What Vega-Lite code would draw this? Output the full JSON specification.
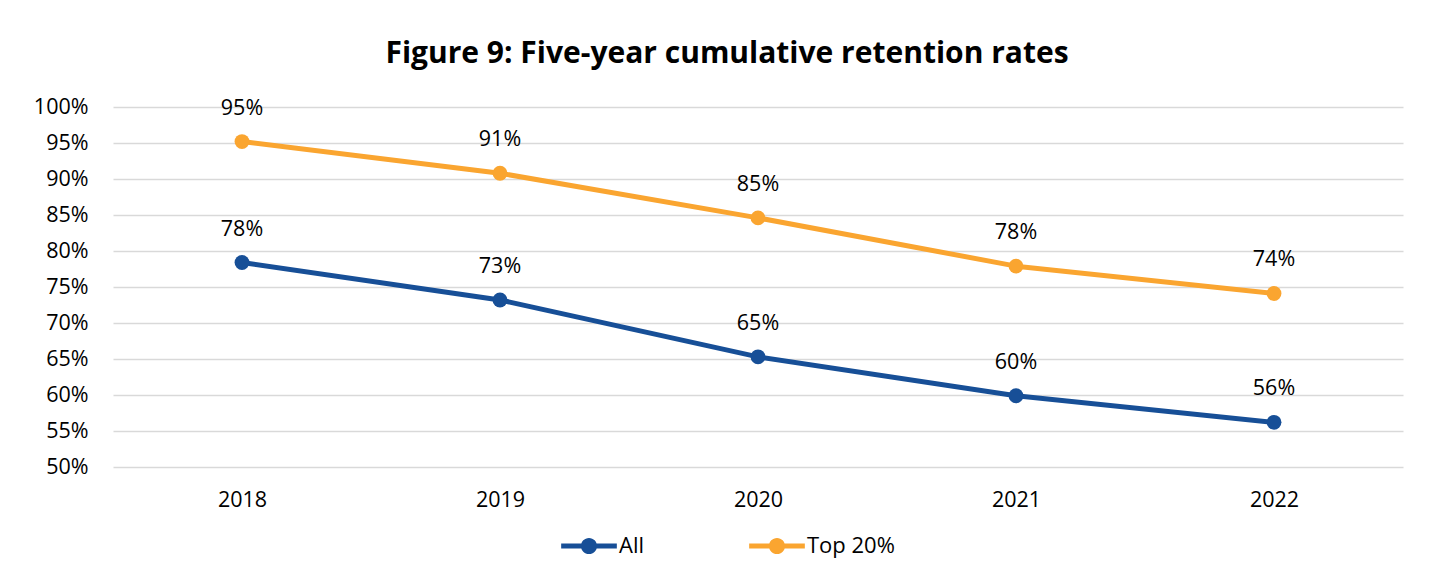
{
  "$schema": "https://vega.github.io/schema/vega-lite/v6.json",
  "autosize": {"type": "none"},
  "width": 1290,
  "height": 360,
  "padding": {"left": 113, "top": 107, "right": 47, "bottom": 112},
  "background": "white",
  "title": {
    "text": "Figure 9: Five-year cumulative retention rates",
    "font": "Open Sans",
    "fontSize": 30,
    "fontWeight": "bold",
    "color": "#000000",
    "anchor": "middle",
    "dx": -31,
    "offset": 27
  },
  "config": {
    "font": "Open Sans",
    "view": {"stroke": null},
    "axis": {"labelFont": "Open Sans", "labelFontSize": 21.5, "labelColor": "#000000"}
  },
  "data": {
    "values": [
      {"year": "2018", "series": "All", "rate": 0.784},
      {"year": "2019", "series": "All", "rate": 0.732},
      {"year": "2020", "series": "All", "rate": 0.653},
      {"year": "2021", "series": "All", "rate": 0.599},
      {"year": "2022", "series": "All", "rate": 0.562},
      {"year": "2018", "series": "Top 20%", "rate": 0.952},
      {"year": "2019", "series": "Top 20%", "rate": 0.908},
      {"year": "2020", "series": "Top 20%", "rate": 0.846},
      {"year": "2021", "series": "Top 20%", "rate": 0.779},
      {"year": "2022", "series": "Top 20%", "rate": 0.741}
    ]
  },
  "encoding": {
    "x": {
      "field": "year", "type": "ordinal", "title": null,
      "scale": {"type": "point", "padding": 0.5},
      "axis": {"labelAngle": 0, "domain": false, "ticks": false, "labelPadding": 22, "grid": false}
    },
    "y": {
      "field": "rate", "type": "quantitative", "title": null,
      "scale": {"domain": [0.5, 1.0], "nice": false, "zero": false},
      "axis": {"format": ".0%", "values": [0.5, 0.55, 0.6, 0.65, 0.7, 0.75, 0.8, 0.85, 0.9, 0.95, 1.0],
               "domain": false, "ticks": false, "labelPadding": 25,
               "gridColor": "#D9D9D9", "gridWidth": 1.5}
    },
    "color": {
      "field": "series", "type": "nominal",
      "scale": {"domain": ["All", "Top 20%"], "range": ["#174F97", "#FAA530"]},
      "legend": {
        "title": null, "orient": "none", "direction": "horizontal",
        "legendX": 448, "legendY": 411,
        "symbolType": "M-1,-0.09H1V0.09H-1Z M-0.29,0A0.29,0.29 0 1,1 0.29,0A0.29,0.29 0 1,1 -0.29,0Z",
        "symbolSize": 3100, "symbolStrokeWidth": 0, "symbolOpacity": 1,
        "labelFont": "Open Sans", "labelFontSize": 22, "labelColor": "#000000",
        "labelOffset": 2, "columnPadding": 104
      }
    }
  },
  "layer": [
    {"mark": {"type": "line", "strokeWidth": 5}},
    {"mark": {"type": "point", "filled": true, "opacity": 1, "size": 220}},
    {
      "mark": {"type": "text", "dy": -33, "baseline": "middle", "fontSize": 21.5, "font": "Open Sans", "color": "#000000"},
      "encoding": {"text": {"field": "rate", "type": "quantitative", "format": ".0%"}, "color": {"value": "#000000"}}
    }
  ]
}
